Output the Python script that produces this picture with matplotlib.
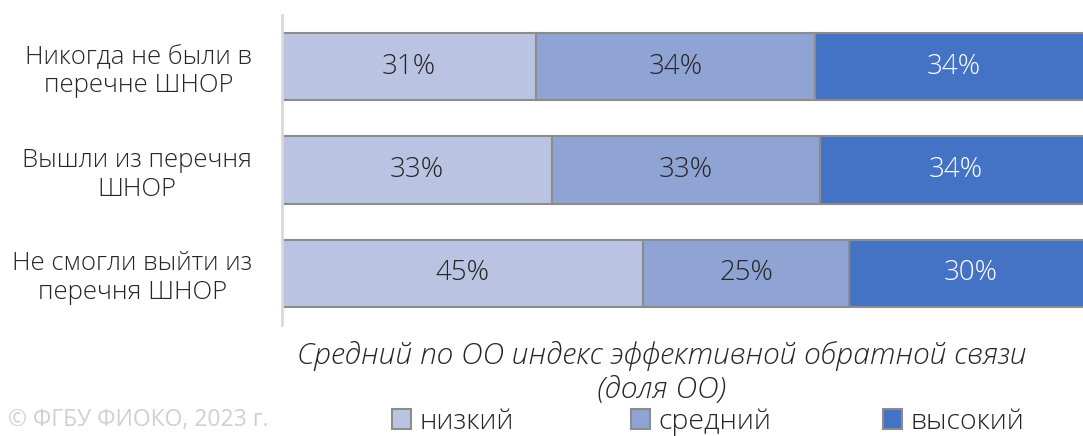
import numpy as np
import matplotlib.pyplot as plt

plt.rcParams['font.family'] = ['Open Sans', 'DejaVu Sans']

categories = ["Никогда не были в\nперечне ШНОР",
              "Вышли из перечня\nШНОР",
              "Не смогли выйти из\nперечня ШНОР"]
series = ["низкий", "средний", "высокий"]
low = [31.4, 33.3, 44.6]
mid = [34.4, 33.1, 25.4]
high = [34.2, 33.6, 30.0]
colors = ["#BAC4E2", "#8FA3D4", "#4472C4"]
text_colors = ["#262626", "#262626", "#FFFFFF"]

fig = plt.figure(figsize=(10.83, 4.36), dpi=100)
ax = fig.add_axes([282 / 1083, 111 / 436, 810 / 1083, 310 / 436])

y = np.arange(len(categories))
left = np.zeros(len(categories))
containers = []
for vals, col, tc, name in zip([low, mid, high], colors, text_colors, series):
    vals = np.array(vals)
    bc = ax.barh(y, vals, left=left, height=0.65, color=col,
                 edgecolor="#8C8C8C", linewidth=1.5, label=name)
    containers.append(bc)
    for yi, l, v in zip(y, left, vals):
        ax.text(l + v / 2, yi, f"{round(v):.0f}%", ha="center", va="center",
                fontsize=20, color=tc, fontweight="light")
    left += vals

ax.set_xlim(0, 100)
ax.set_ylim(2.5, -0.5)
ax.set_yticks(y)
ax.set_yticklabels(categories, fontsize=18.5, color="#262626",
                   linespacing=1.2, multialignment="center",
                   fontweight="light")
ax.tick_params(axis="y", length=0, pad=21.5)
ax.tick_params(axis="x", bottom=False, labelbottom=False)
for s in ["top", "right", "bottom"]:
    ax.spines[s].set_visible(False)
ax.spines["left"].set_color("#D9D9D9")
ax.spines["left"].set_linewidth(2)

fig.text(662 / 1083, 1 - 373 / 436,
         "Средний по ОО индекс эффективной обратной связи\n(доля ОО)",
         ha="center", va="center", fontsize=21.6, style="italic",
         color="#262626", linespacing=1.2, fontweight="light")

fig.text(8 / 1083, 1 - 420 / 436, "© ФГБУ ФИОКО, 2023 г.",
         ha="left", va="center", fontsize=16.5, color="#D0D0D0")

for bc, xpos in zip(containers, [392, 631, 883]):
    fig.legend([bc], [bc.get_label()], loc="center left",
               bbox_to_anchor=(xpos / 1083, 1 - 422 / 436), frameon=False,
               prop={"size": 20.5, "weight": "light"},
               handlelength=0.67, handleheight=0.67,
               handletextpad=0.28, borderpad=0, borderaxespad=0,
               labelcolor="#262626")

fig.savefig("out.png", dpi=100)
